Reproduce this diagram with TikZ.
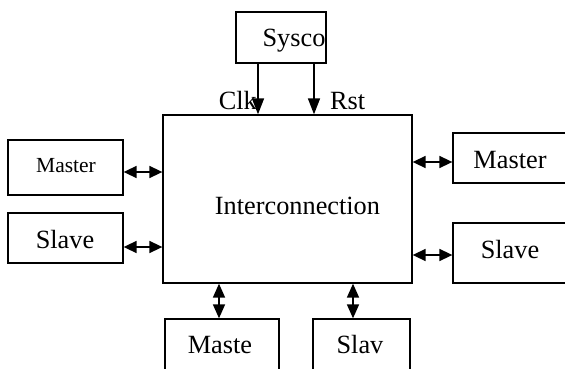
\documentclass[tikz,border=0pt]{standalone}
\usepackage{fontspec}
\setmainfont{Liberation Serif}
\usetikzlibrary{arrows.meta}

\tikzset{
  box/.style={draw, line width=1.3pt, rectangle, inner sep=0pt},
  lbl/.style={inner sep=0pt, anchor=base, font=\fontsize{26.3}{31}\selectfont},
  smalllbl/.style={inner sep=0pt, anchor=base, font=\fontsize{21.5}{25}\selectfont},
  sig/.style={line width=1.6pt, -{Triangle[length=16pt, width=12pt]}},
  bus/.style={line width=1.6pt, {Triangle[length=13pt, width=12pt]}-{Triangle[length=13pt, width=12pt]}},
  vbus/.style={line width=1.6pt, {Triangle[length=14pt, width=12pt]}-{Triangle[length=14pt, width=12pt]}}
}

\begin{document}
\begin{tikzpicture}[x=1pt, y=-1pt]
  \useasboundingbox (0,0) rectangle (565,369);
  \clip (0,0) rectangle (565,369);

  % blocks
  \node[box, minimum width=90pt,  minimum height=51pt]  (sysco) at (281,37.5)  {};
  \node[box, minimum width=249pt, minimum height=168pt] (ic)    at (287.5,199) {};
  \node[box, minimum width=115pt, minimum height=55pt]  (lm)    at (65.5,167.5){};
  \node[box, minimum width=115pt, minimum height=50pt]  (ls)    at (65.5,238)  {};
  \node[box, minimum width=122pt, minimum height=50pt]  (rm)    at (514,158)   {};
  \node[box, minimum width=122pt, minimum height=60pt]  (rs)    at (514,253)   {};
  \node[box, minimum width=114pt, minimum height=66pt]  (bm)    at (222,352)   {};
  \node[box, minimum width=97pt,  minimum height=66pt]  (bs)    at (361.5,352) {};

  % labels
  \node[lbl] (tsysco) at (294,47)    {Sysco};
  \node[lbl] (tic)    at (297.5,214) {Interconnection};
  \node[smalllbl] (tlm) at (66,172)  {Master};
  \node[lbl] (tls)    at (65,248)    {Slave};
  \node[lbl] (trm)    at (510,168)   {Master};
  \node[lbl] (trs)    at (510,258)   {Slave};
  \node[lbl] (tbm)    at (220,353)   {Maste};
  \node[lbl] (tbs)    at (360,353)   {Slav};
  \node[lbl, anchor=base east] (tclk) at (257,110) {Clk};
  \node[lbl, anchor=base west] (trst) at (330,110) {Rst};

  % connector tracks
  \coordinate (clkx) at (258,0);
  \coordinate (rstx) at (314,0);
  \coordinate (lmy)  at (0,172);
  \coordinate (lsy)  at (0,247);
  \coordinate (rmy)  at (0,162);
  \coordinate (rsy)  at (0,255);
  \coordinate (bmx)  at (219,0);
  \coordinate (bsx)  at (353,0);

  % clock and reset
  \draw[sig] (sysco.south -| clkx) -- (ic.north -| clkx);
  \draw[sig] (sysco.south -| rstx) -- (ic.north -| rstx);

  % bus links
  \draw[bus] (lm.east |- lmy) -- (ic.west |- lmy);
  \draw[bus] (ls.east |- lsy) -- (ic.west |- lsy);
  \draw[bus] (ic.east |- rmy) -- (rm.west |- rmy);
  \draw[bus] (ic.east |- rsy) -- (rs.west |- rsy);
  \draw[vbus] (ic.south -| bmx) -- (bm.north -| bmx);
  \draw[vbus] (ic.south -| bsx) -- (bs.north -| bsx);
\end{tikzpicture}
\end{document}
